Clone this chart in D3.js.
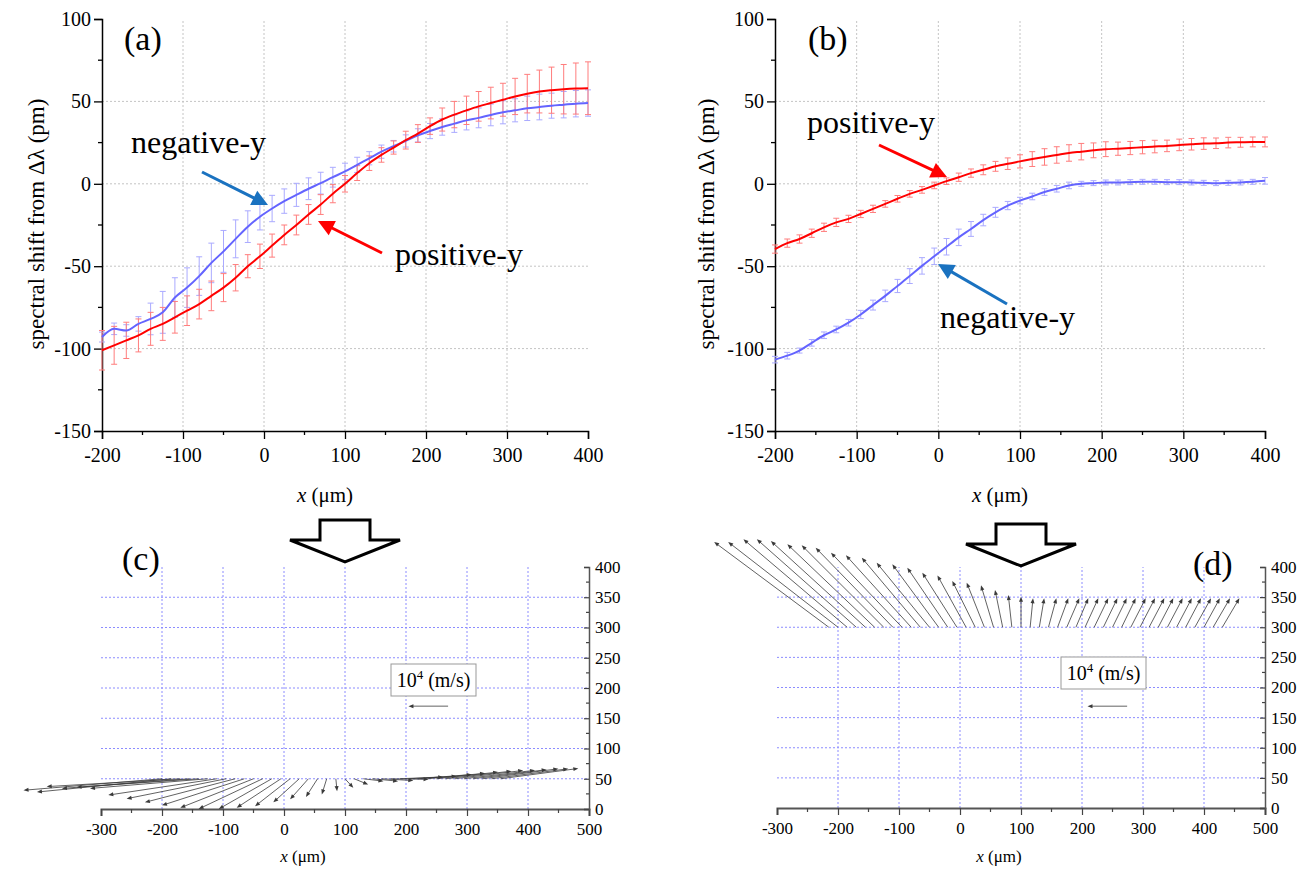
<!DOCTYPE html>
<html><head><meta charset="utf-8">
<script src="https://cdn.jsdelivr.net/npm/d3@7"></script>
<style>
body{margin:0;background:#fff}
svg{display:block}
svg text{font-family:"Liberation Serif","Times New Roman","DejaVu Serif",serif !important;fill:#000}
</style>
</head><body>
<svg id="chart" width="1311" height="870"></svg>
<script>
// ---------- data: panels (a) and (b) ----------
const xPos = [-200,-185,-170,-155,-140,-125,-110,-95,-80,-65,-50,-35,-20,-5,10,25,40,55,70,85,100,115,130,145,160,175,190,205,220,235,250,265,280,295,310,325,340,355,370,385,400];
const aPositive = [-101,-98,-95,-92,-88,-85,-81,-77,-73,-68,-63,-57,-50,-44,-37.5,-31,-25,-18.6,-12.6,-6,0,6.5,12.5,17.5,22,26.5,30.5,35,39,42,44.6,47,49,51,53,54.7,56,56.8,57.4,57.8,58];
const aPositiveErr = [12,11.5,11,10,10,10,9.6,9,9,9,8.5,8,7,7.4,7,6,6,6,6,5.5,5,4.5,4.4,4.4,4,5.4,5.4,5,7,8,8.6,9,9.6,10,11,11.7,13,14,15,15.5,16];
const aNegative = [-93,-88,-89,-85,-82,-78,-69,-63,-56,-48,-41,-33.4,-26,-20,-15,-10.5,-6.7,-3,0.4,4,7.5,11.5,15.5,19.5,22.8,26,29.4,32,34.5,36.5,38.5,40,41.8,43.4,44.6,45.8,46.6,47.4,48,48.6,49];
const aNegativeErr = [3,3.5,3.5,4.4,9.6,12.7,12,12,11.7,12,12.7,11.5,9.6,8,8,7.4,7,6.6,6.6,6,5,4.6,4,4,3.5,3.7,4,4.6,5,5.3,5.8,6,6.6,7,7,7.4,7.8,7.6,8,8,8];
const bPositive = [-39.6,-36,-33.5,-30,-26.4,-23.4,-21.3,-18.3,-15.2,-12.2,-9.1,-6.1,-3.7,-1,1.6,4,6.5,8.5,10.6,12.2,13.6,15,16.3,17.5,18.7,19.5,20.3,21,21.3,21.7,22.2,22.6,23,23.6,24,24.4,24.6,25,25.2,25.4,25.4];
const bPositiveErr = [2.5,2.5,2.5,2.5,2.5,2.5,2.2,2.2,2.2,2,2,2,2,2,2,2.5,2.5,3,3,3.5,4,4.5,5,5,5,5,4.5,4.5,4,4,4,3.8,3.5,3.5,3.5,3.5,3.2,3.2,3,3,3];
const bNegative = [-106.7,-104.3,-101.2,-96.5,-91.9,-88.4,-84.3,-79.3,-73.6,-68,-62,-56,-49.8,-44,-38.2,-32.5,-27.4,-22,-17.3,-13.2,-10.2,-7.7,-5,-3,-1,0,0.4,0.8,0.8,1,1.2,1.2,1,1,0.8,0.6,0.4,0.6,0.8,1.2,1.8];
const bNegativeErr = [2,2,1.5,2,2,2,2,2.5,3,3.5,4,4.5,5,5,5,5,4.5,3.5,3,2.5,2,2,2,2,2,1.5,1.5,1.5,1.5,1.5,1.5,1.5,1.5,1.5,1.5,1.5,1.5,1.5,1.5,1.5,2];
const shiftXTicks = [-200,-100,0,100,200,300,400];
const shiftXMinor = [-150,-50,50,150,250,350];
const shiftYTicks = [-150,-100,-50,0,50,100];
const shiftYMinor = [-125,-75,-25,25,75];

// ---------- data: panels (c) and (d) velocity vectors ----------
const cBaseY = 50;
const cTailX = [-200,-185,-170,-155,-140,-125,-110,-95,-80,-65,-50,-35,-20,-5,10,25,40,55,70,85,100,115,130,145,160,175,190,205,220,235,250,265,280,295,310,325,340,355];
const cU = [-227,-220,-219,-209,-200,-193,-178,-163,-148,-135,-120,-105,-87,-72.5,-57.5,-42.5,-30,-19,-8,2,13.6,23,33,42,52,62,71,78,87.7,94.5,101,108,112,116.5,120.6,124.7,126,127.5];
const cV = [-19,-22,-13,-16,-14,-16,-27,-33,-39,-44,-48,-50,-50,-48,-45.4,-39,-34,-30,-26,-20.5,-15,-9.5,-4,-4,-3,-1,3,4,7,9,11,12.6,13.7,14,15,16.5,16.5,17];
const dBaseY = 300;
const dTailX = [-215,-200,-185,-170,-155,-140,-125,-110,-95,-80,-65,-50,-35,-20,-5,10,25,40,55,70,85,100,115,130,145,160,175,190,205,220,235,250,265,280,295,310,325,340,355,370,385,400,415,430];
const dU = [-188,-180,-170,-163,-155,-143,-134.5,-126.6,-116.5,-107,-96,-86.6,-76,-66.4,-56.8,-47,-37.6,-29,-20.6,-12.6,-5.8,0,4.7,8,13,17.5,20.6,20.3,21.7,23,23,23.3,23,24.4,24.7,25,24.7,25,25,25,26.5,26,27.6,28];
const dV = [141.5,141.5,146,146,143,137.7,136,132,123.7,119.4,115.4,107,104.5,98.8,90.5,86,76.8,74,69.6,62,53.5,50.7,48,48,48,48,48,48,48,48,48,48,48,48,48,48,48,48,48,48,48,48,48,48];
const refVector = [-65, 0];   // 10^4 m/s reference arrow (x units)
const flowXTicks = [-300,-200,-100,0,100,200,300,400,500];
const flowXMinor = [-250,-150,-50,50,150,250,350,450];
const flowYTicks = [0,50,100,150,200,250,300,350,400];
const flowYMinor = [25,75,125,175,225,275,325,375];
const flowGridX = [-200,-100,0,100,200,300,400];
const flowGridY = [50,100,150,200,250,300,350];

const SERIF = '"Liberation Serif","Times New Roman","DejaVu Serif",serif';
const svg = d3.select('#chart');
const fmt = d => String(d);

function arrowHead(g, x1, y1, x2, y2, color, width, hl, hw) {
  const a = Math.atan2(y2 - y1, x2 - x1);
  const bx = x2 - hl * Math.cos(a), by = y2 - hl * Math.sin(a);
  g.append('line').attr('x1', x1).attr('y1', y1).attr('x2', bx + 0.3*hl*Math.cos(a)).attr('y2', by + 0.3*hl*Math.sin(a))
    .attr('stroke', color).attr('stroke-width', width);
  const px = -Math.sin(a) * hw, py = Math.cos(a) * hw;
  g.append('path').attr('d', `M${x2},${y2}L${bx+px},${by+py}L${bx-px},${by-py}Z`).attr('fill', color);
}

// ---------- spectral shift panels ----------
function shiftPanel(opt) {
  const g = svg.append('g');
  const x = d3.scaleLinear().domain([-200, 400]).range([opt.x0, opt.x1]);
  const y = d3.scaleLinear().domain([-150, 100]).range([431, 19]);
  g.selectAll('.gx').data(shiftXTicks.slice(1, -1)).join('line')
    .attr('x1', d => x(d)).attr('x2', d => x(d)).attr('y1', y(-150)).attr('y2', y(100))
    .attr('stroke', '#c4c4c4').attr('stroke-width', 1).attr('stroke-dasharray', '2,2');
  g.selectAll('.gy').data(shiftYTicks.slice(1, -1)).join('line')
    .attr('y1', d => y(d)).attr('y2', d => y(d)).attr('x1', x(-200)).attr('x2', x(400))
    .attr('stroke', '#c4c4c4').attr('stroke-width', 1).attr('stroke-dasharray', '2,2');
  const xa = g.append('g').attr('transform', `translate(0,${y(-150)})`)
    .call(d3.axisBottom(x).tickValues(shiftXTicks).tickFormat(fmt).tickSize(8).tickPadding(6));
  xa.attr('font-family', null);
  xa.selectAll('.tick line').attr('stroke-width', 1.3);
  xa.selectAll('text').attr('font-size', 20).style('font-family', SERIF).attr('dy', '0.85em');
  xa.select('.domain').attr('stroke-width', 1.5);
  xa.selectAll('.mn').data(shiftXMinor).join('line').attr('x1', d => x(d)).attr('x2', d => x(d))
    .attr('y1', 0).attr('y2', 4).attr('stroke', '#000').attr('stroke-width', 1.3);
  const ya = g.append('g').attr('transform', `translate(${x(-200)},0)`)
    .call(d3.axisLeft(y).tickValues(shiftYTicks).tickFormat(fmt).tickSize(8).tickPadding(3));
  ya.attr('font-family', null);
  ya.selectAll('.tick line').attr('stroke-width', 1.3);
  ya.selectAll('text').attr('font-size', 20).style('font-family', SERIF);
  ya.select('.domain').attr('stroke-width', 1.5);
  ya.selectAll('.mn').data(shiftYMinor).join('line').attr('y1', d => y(d)).attr('y2', d => y(d))
    .attr('x1', 0).attr('x2', -4).attr('stroke', '#000').attr('stroke-width', 1.3);
  opt.series.forEach(s => {
    const eb = g.append('g').attr('stroke', s.errColor).attr('stroke-width', 1);
    xPos.forEach((xv, i) => {
      const cx = x(xv), t = y(s.v[i] + s.e[i]), b = y(s.v[i] - s.e[i]);
      eb.append('line').attr('x1', cx).attr('x2', cx).attr('y1', t).attr('y2', b);
      eb.append('line').attr('x1', cx - 3).attr('x2', cx + 3).attr('y1', t).attr('y2', t);
      eb.append('line').attr('x1', cx - 3).attr('x2', cx + 3).attr('y1', b).attr('y2', b);
    });
  });
  opt.series.forEach(s => {
    g.append('path').datum(s.v)
      .attr('d', d3.line().x((d, i) => x(xPos[i])).y(d => y(d)).curve(d3.curveMonotoneX))
      .attr('fill', 'none').attr('stroke', s.color).attr('stroke-width', 2);
  });
  g.append('text').attr('transform', `translate(${opt.titleX},224) rotate(-90)`).attr('text-anchor', 'middle')
    .attr('font-size', 23).style('font-family', SERIF).text('spectral shift from Δλ (pm)');
  const xt = g.append('text').attr('x', (opt.x0 + opt.x1) / 2 - 20).attr('y', 502).attr('text-anchor', 'middle')
    .attr('font-size', 21).style('font-family', SERIF);
  xt.append('tspan').attr('font-style', 'italic').text('x');
  xt.append('tspan').text(' (μm)');
  g.append('text').attr('x', opt.labelX).attr('y', 50).attr('font-size', 34).style('font-family', SERIF).text(opt.label);
  return {g, x, y};
}

const pa = shiftPanel({x0: 102, x1: 588, titleX: 44, labelX: 124, label: '(a)', series: [
  {v: aNegative, e: aNegativeErr, color: '#6464ff', errColor: '#aaaaff'},
  {v: aPositive, e: aPositiveErr, color: '#ff0000', errColor: '#ff7d7d'}]});
const pb = shiftPanel({x0: 775, x1: 1265, titleX: 714, labelX: 808, label: '(b)', series: [
  {v: bNegative, e: bNegativeErr, color: '#6464ff', errColor: '#aaaaff'},
  {v: bPositive, e: bPositiveErr, color: '#ff0000', errColor: '#ff7d7d'}]});

function note(g, x, y, t) {
  g.append('text').attr('x', x).attr('y', y).attr('font-size', 32).style('font-family', SERIF).text(t);
}
note(pa.g, 131, 153, 'negative-y');
arrowHead(pa.g, 202, 172, 268, 205, '#1a72c0', 3, 16, 8);
note(pa.g, 395, 265, 'positive-y');
arrowHead(pa.g, 382, 253, 318, 221, '#ff0000', 3, 16, 8);
note(pb.g, 807, 133, 'positive-y');
arrowHead(pb.g, 879, 145, 947, 177, '#ff0000', 3, 16, 8);
note(pb.g, 940, 328, 'negative-y');
arrowHead(pb.g, 1007, 304, 938, 264, '#1a72c0', 3, 16, 8);

// ---------- velocity panels ----------
function flowPanel(opt) {
  const g = svg.append('g');
  const x = d3.scaleLinear().domain([-300, 500]).range([opt.x0, opt.x1]);
  const y = d3.scaleLinear().domain([0, 400]).range([opt.yb, opt.yt]);
  g.selectAll('.gx').data(flowGridX).join('line')
    .attr('x1', d => x(d)).attr('x2', d => x(d)).attr('y1', y(0)).attr('y2', y(400))
    .attr('stroke', '#8c8cff').attr('stroke-width', 1).attr('stroke-dasharray', '2,2');
  g.selectAll('.gy').data(flowGridY).join('line')
    .attr('y1', d => y(d)).attr('y2', d => y(d)).attr('x1', x(-300)).attr('x2', x(500))
    .attr('stroke', '#8c8cff').attr('stroke-width', 1).attr('stroke-dasharray', '2,2');
  const xa = g.append('g').attr('transform', `translate(0,${y(0)})`)
    .call(d3.axisBottom(x).tickValues(flowXTicks).tickFormat(fmt).tickSize(7).tickPadding(5));
  xa.attr('font-family', null);
  xa.selectAll('.tick line').attr('stroke', '#444').attr('stroke-width', 1.2);
  xa.select('.domain').attr('stroke', '#555').attr('stroke-width', 2);
  xa.selectAll('text').attr('font-size', 17).style('font-family', SERIF).attr('dy', '0.85em');
  xa.selectAll('.mn').data(flowXMinor).join('line').attr('x1', d => x(d)).attr('x2', d => x(d))
    .attr('y1', 0).attr('y2', 4).attr('stroke', '#444').attr('stroke-width', 1.2);
  const ya = g.append('g').attr('transform', `translate(${x(500)},0)`)
    .call(d3.axisRight(y).tickValues(flowYTicks).tickFormat(fmt).tickSize(-5).tickPadding(6));
  ya.attr('font-family', null);
  ya.selectAll('.tick line').attr('stroke', '#444').attr('stroke-width', 1.2);
  ya.select('.domain').attr('stroke', '#555').attr('stroke-width', 1.5);
  ya.selectAll('text').attr('font-size', 17).style('font-family', SERIF);
  ya.selectAll('.mn').data(flowYMinor).join('line').attr('y1', d => y(d)).attr('y2', d => y(d))
    .attr('x1', 0).attr('x2', -3).attr('stroke', '#444').attr('stroke-width', 1.2);
  const vg = g.append('g');
  opt.tails.forEach((tx, i) => {
    arrowHead(vg, x(tx), y(opt.baseY), x(tx + opt.u[i]), y(opt.baseY + opt.v[i]), '#3a3a3a', 0.8, 5, 2);
  });
  g.append('rect').attr('x', opt.box[0]).attr('y', opt.box[1]).attr('width', 85).attr('height', 32)
    .attr('fill', '#fff').attr('stroke', '#999').attr('stroke-width', 1);
  const lt = g.append('text').attr('x', opt.box[0] + 42.5).attr('y', opt.box[1] + 23).attr('text-anchor', 'middle')
    .attr('font-size', 20).style('font-family', SERIF);
  lt.append('tspan').text('10');
  lt.append('tspan').attr('font-size', 13).attr('dy', -8).text('4');
  lt.append('tspan').attr('dy', 8).text(' (m/s)');
  arrowHead(g, x(opt.ref[0]), y(opt.ref[1]), x(opt.ref[0] + refVector[0]), y(opt.ref[1] + refVector[1]), '#3a3a3a', 0.8, 5, 2);
  const cx = x(100), t = opt.bigTop;
  g.append('path').attr('d', `M${cx-25},${t}L${cx+25},${t}L${cx+25},${t+20}L${cx+55},${t+20}L${cx},${t+42}L${cx-55},${t+20}L${cx-25},${t+20}Z`)
    .attr('fill', '#fff').attr('stroke', '#000').attr('stroke-width', 3).attr('stroke-linejoin', 'miter');
  const xt = g.append('text').attr('x', opt.titleX).attr('y', 862).attr('text-anchor', 'middle')
    .attr('font-size', 17).style('font-family', SERIF);
  xt.append('tspan').attr('font-style', 'italic').text('x');
  xt.append('tspan').text(' (μm)');
  g.append('text').attr('x', opt.label[0]).attr('y', opt.label[1]).attr('font-size', 34).style('font-family', SERIF).text(opt.label[2]);
}

flowPanel({x0: 101, x1: 589, yb: 809, yt: 567, tails: cTailX, baseY: cBaseY, u: cU, v: cV,
  box: [391, 664], ref: [269, 170], bigTop: 520, titleX: 303, label: [122, 570, '(c)']});
flowPanel({x0: 777, x1: 1265, yb: 808, yt: 567, tails: dTailX, baseY: dBaseY, u: dU, v: dV,
  box: [1061, 657], ref: [274, 169], bigTop: 524, titleX: 999, label: [1193, 575, '(d)']});
</script>
</body></html>
